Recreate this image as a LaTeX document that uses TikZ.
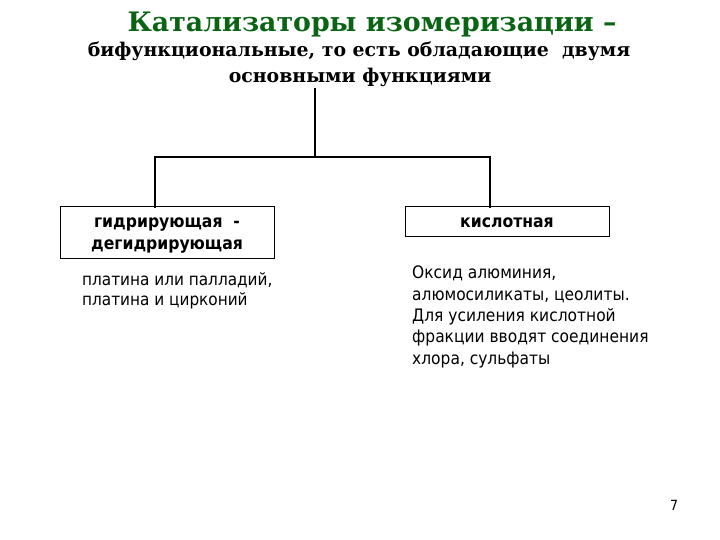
\documentclass[tikz,border=0pt]{standalone}
\usepackage{fontspec}
\setmainfont{DejaVu Sans}
\newfontfamily\titlefont{DejaVu Serif}
\newfontfamily\bodyfont{DejaVu Sans Condensed}
\definecolor{titlegreen}{RGB}{10,100,20}
\begin{document}
\begin{tikzpicture}[x=1pt,y=1pt,
  conn/.style={line width=2.6pt},
  catbox/.style={draw, line width=1pt, inner sep=0pt},
  boxtext/.style={inner sep=0pt, font=\bodyfont\bfseries\fontsize{17.4}{22}\selectfont, align=center},
  desc/.style={anchor=north west, inner sep=0pt, font=\bodyfont\fontsize{17.2}{21.3}\selectfont, align=left}]
\useasboundingbox (0,0) rectangle (720,-540);
\node[font=\titlefont\bfseries\fontsize{26.8}{30}\selectfont, text=titlegreen] (t1) at (372,-25) {Катализаторы изомеризации –};
\node[font=\titlefont\bfseries\fontsize{18.9}{22}\selectfont] (t2) at (359,-51) {бифункциональные, то есть обладающие\ \ двумя};
\node[font=\titlefont\bfseries\fontsize{18.9}{22}\selectfont] (t3) at (360,-77) {основными функциями};
\coordinate (top) at (315,-88);
\coordinate (mid) at (315,-157);
\coordinate (jl) at (155,-157);
\coordinate (jr) at (490,-157);
\node[catbox, minimum width=214, minimum height=51] (left) at (167,-232.5) {};
\node[boxtext] (lefttext) at ([yshift=-3]left.center) {гидрирующая\ \ -\\дегидрирующая};
\node[catbox, minimum width=204, minimum height=29] (right) at (507,-221.5) {};
\node[boxtext] (righttext) at ([yshift=-1.5]right.center) {кислотная};
\draw[conn] (top) -- (mid);
\draw[conn, line cap=rect] (jl |- left.north) -- (jl) -- (jr) -- (jr |- right.north);
\node[desc, font=\bodyfont\fontsize{17}{20}\selectfont] (ld) at (82,-272.5) {платина или палладий,\\платина и цирконий};
\node[desc] (rd) at (412,-266) {Оксид алюминия,\\алюмосиликаты, цеолиты.\\Для усиления кислотной\\фракции вводят соединения\\хлора, сульфаты};
\node[font=\bodyfont\fontsize{14}{16}\selectfont] (pg) at (674,-505) {7};
\end{tikzpicture}
\end{document}
